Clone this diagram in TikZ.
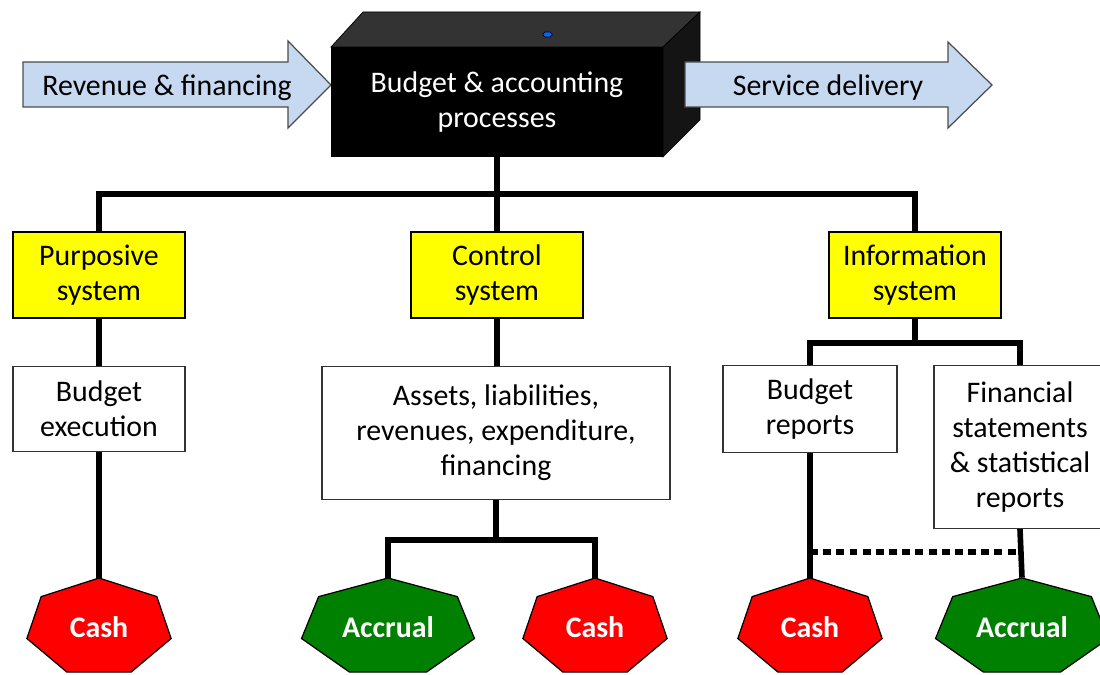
\documentclass[tikz,border=0pt]{standalone}
\usepackage{fontspec}
\setmainfont{Carlito}
\usepackage{tikz}
\usetikzlibrary{calc}

\definecolor{arrowblue}{RGB}{198,217,241}
\definecolor{boxyellow}{RGB}{255,255,0}
\definecolor{cashred}{RGB}{255,0,0}
\definecolor{accrualgreen}{RGB}{0,128,0}

% heptagon: name, x, y, half width, colour, text
\newcommand{\heptagon}[6]{%
	\filldraw[fill=#5,draw=black,line width=0.7pt,shift={(#2,#3)}]
		(90:#4 and 49.5) \foreach \k in {1,...,6} {-- ({90+\k*360/7}:#4 and 49.5)} -- cycle;
	\node[heptlabel] (#1) at (#2,#3) {#6};
}

\begin{document}
\begin{tikzpicture}[x=0.02cm,y=0.02cm,
	every node/.style={font=\fontsize{17}{20}\selectfont,align=center},
	sysbox/.style={draw=black,line width=0.7pt,fill=boxyellow,minimum width=3.44cm,minimum height=1.72cm},
	infobox/.style={draw=black!80,line width=0.7pt,fill=white},
	conn/.style={line width=3.2pt},
	heptlabel/.style={text=white,font=\fontsize{17}{20}\selectfont\bfseries,minimum height=1.98cm,inner sep=0pt},
	flowarrow/.style={fill=arrowblue,draw=black!70,line width=0.7pt}]
	\useasboundingbox (0,0) rectangle (1100,-675);
	%
	\draw[flowarrow] (23,-62) -- (288,-62) -- (288,-41) -- (331,-85) -- (288,-128) -- (288,-107) -- (23,-107) -- cycle;
	\node (rev) at (167,-88) {Revenue \& financing};
	%
	\filldraw[fill=black!80,draw=black] (331,-47) -- (363,-12) -- (700,-12) -- (663,-47) -- cycle;
	\filldraw[fill=black!92,draw=black] (663,-47) -- (700,-12) -- (700,-120) -- (663,-157) -- cycle;
	\filldraw[fill=blue!60!cyan,draw=black,rounded corners=1pt] (543,-32) rectangle (552,-37);
	\node[fill=black,text=white,minimum width=6.64cm,minimum height=2.2cm,inner sep=0pt] (proc) at (497,-102) {Budget \& accounting\\processes};
	%
	\draw[flowarrow] (685,-62) -- (948,-62) -- (948,-42) -- (992,-85) -- (948,-128) -- (948,-107) -- (685,-107) -- cycle;
	\node (serv) at (828,-88) {Service delivery};
	%
	\node[sysbox] (purp) at (99,-275) {Purposive\\system};
	\node[sysbox] (ctrl) at (497,-275) {Control\\system};
	\node[sysbox] (info) at (915,-275) {Information\\system};
	%
	\node[infobox,minimum width=3.44cm,minimum height=1.7cm] (exec) at (99,-409) {Budget\\execution};
	\node[infobox,minimum width=6.96cm,minimum height=2.66cm] (assets) at (496,-433) {Assets, liabilities,\\revenues, expenditure,\\financing};
	\node[infobox,minimum width=3.48cm,minimum height=1.74cm] (brep) at (810,-409) {Budget\\reports};
	\node[infobox,minimum width=3.44cm,minimum height=3.26cm] (fin) at (1020,-447) {Financial\\statements\\\& statistical\\reports};
	%
	\heptagon{cashA}{99}{-627.5}{74}{cashred}{Cash}
	\heptagon{accA}{388}{-627.5}{88.7}{accrualgreen}{Accrual}
	\heptagon{cashB}{595}{-627.5}{74}{cashred}{Cash}
	\heptagon{cashC}{810}{-627.5}{74}{cashred}{Cash}
	\heptagon{accB}{1022}{-627.5}{88.7}{accrualgreen}{Accrual}
	%
	\coordinate (bus) at (497,-194);
	\coordinate (ctrlsplit) at (496,-540);
	\coordinate (infosplit) at (915,-343);
	\coordinate (dotL) at (810,-552);
	\coordinate (dotR) at (1020,-552);
	%
	\draw[conn] (purp.north) |- (bus) -| (info.north);
	\draw[conn] (proc.south) -- (ctrl.north);
	\draw[conn] (purp.south) -- (exec.north);
	\draw[conn] (exec.south) -- (cashA.north);
	\draw[conn] (ctrl.south) -- (ctrl.south |- assets.north);
	\draw[conn] (assets.south) -- (ctrlsplit);
	\draw[conn] (accA.north) |- (ctrlsplit) -| (cashB.north);
	\draw[conn] (info.south) -- (infosplit);
	\draw[conn] (brep.north) |- (infosplit) -| (fin.north);
	\draw[conn] (brep.south) -- (cashC.north);
	\draw[conn] (fin.south) -- (accB.north);
	\draw[conn,dash pattern=on 4.5pt off 3pt] (dotL) -- (dotR);
\end{tikzpicture}
\end{document}
